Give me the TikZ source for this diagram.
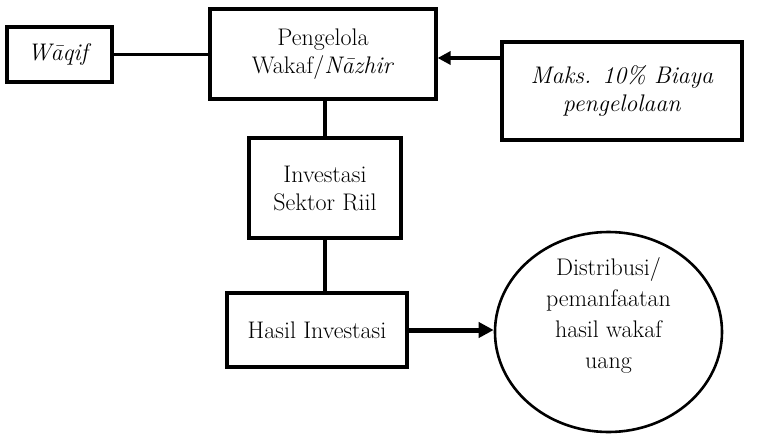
\documentclass[tikz,border=0pt]{standalone}
\usepackage{fontspec}
\usetikzlibrary{shapes.geometric,arrows.meta}
\tikzset{
  box/.style={draw, line width=3.2pt, align=center, inner sep=0pt,
    font=\fontsize{24}{28}\selectfont},
  link/.style={line width=3.2pt}
}
\begin{document}
\begin{tikzpicture}[x=1pt,y=-1pt]
\useasboundingbox (0,0) rectangle (766,434);
\node[box, minimum width=105, minimum height=55] (waqif) at (59.5,54.5) {\textit{W\=aqif}};
\node[box, minimum width=226, minimum height=90] (nazhir) at (323,54) {Pengelola\\Wakaf/\textit{N\=azhir}};
\node[box, minimum width=240, minimum height=98] (biaya) at (622,91) {\textit{Maks. 10\% Biaya}\\\textit{pengelolaan}};
\node[box, minimum width=152, minimum height=100] (investasi) at (325,188) {Investasi\\Sektor Riil};
\node[box, minimum width=180, minimum height=74] (hasil) at (317,330) {Hasil Investasi};
\node[box, ellipse, line width=2.6pt, minimum width=227, minimum height=200, inner ysep=-12pt,
  font=\fontsize{24}{31}\selectfont] (distribusi) at (608.5,332)
  {Distribusi/\\pemanfaatan\\hasil wakaf\\uang\\[6pt]};
\draw[link] (waqif.east) -- (waqif.east -| nazhir.west);
\draw[link, -{Triangle[length=13pt,width=13pt]}] (biaya.west |- 0,58) -- (nazhir.east |- 0,58);
\draw[link] (investasi.north |- nazhir.south) -- (investasi.north);
\draw[link] (investasi.south) -- (investasi.south |- hasil.north);
\draw[line width=5pt, -{Triangle[length=15pt,width=15pt]}] (hasil.east) -- (hasil.east -| distribusi.west);
\end{tikzpicture}
\end{document}
